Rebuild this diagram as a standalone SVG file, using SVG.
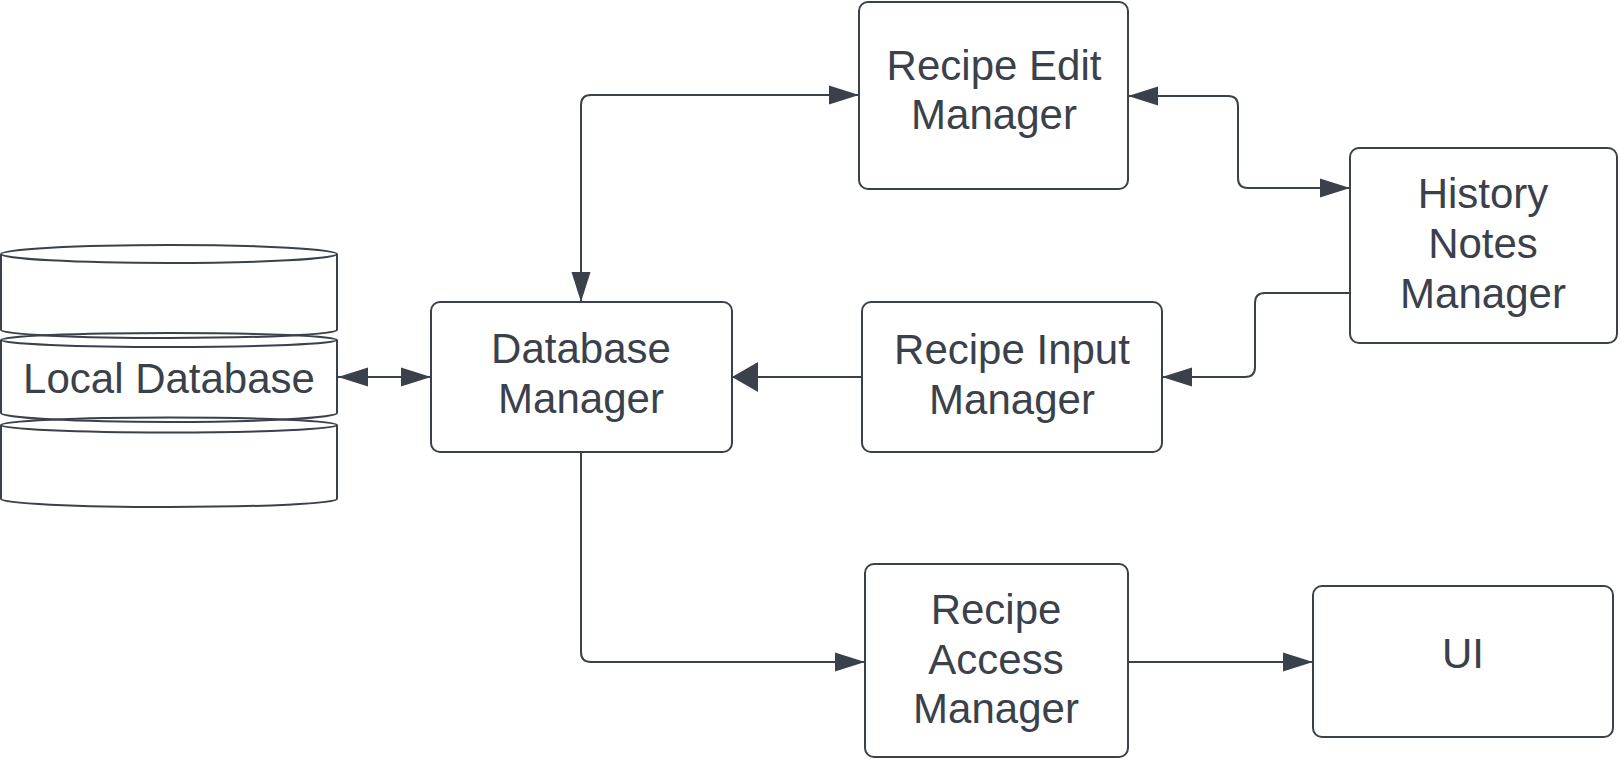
<svg xmlns="http://www.w3.org/2000/svg" width="1620" height="759" viewBox="0 0 1620 759">
<defs>
<style>
.box{fill:#ffffff;stroke:#3a414a;stroke-width:2}
.cyl{fill:none;stroke:#3a414a;stroke-width:2}
.lbl{font-family:"Liberation Sans",Arial,sans-serif;font-size:42px;fill:#3a414a;text-anchor:middle}
.conn{fill:none;stroke:#3a414a;stroke-width:2}
</style>
<marker id="ah" viewBox="0 0 30 20" refX="30" refY="10" markerWidth="30" markerHeight="20" markerUnits="userSpaceOnUse" orient="auto-start-reverse">
<path d="M0,0.5 L30,10 L0,19.5 Z" fill="#3a414a"/>
</marker>
<marker id="ahL" viewBox="0 0 26 30" refX="26" refY="15" markerWidth="26" markerHeight="30" markerUnits="userSpaceOnUse" orient="auto-start-reverse">
<path d="M0,0 L26,15 L0,30 Z" fill="#3a414a"/>
</marker>
</defs>
<rect x="0" y="0" width="1620" height="759" fill="#ffffff"/>

<g id="connectors">
<path class="conn" d="M338,377 L431,377" marker-start="url(#ah)" marker-end="url(#ah)"/>
<path class="conn" d="M581,302 L581,105 Q581,95 591,95 L859,95" marker-start="url(#ah)" marker-end="url(#ah)"/>
<path class="conn" d="M1128,96 L1228,96 Q1238,96 1238,106 L1238,178 Q1238,188 1248,188 L1350,188" marker-start="url(#ah)" marker-end="url(#ah)"/>
<path class="conn" d="M1350,293 L1265,293 Q1255,293 1255,303 L1255,367 Q1255,377 1245,377 L1162,377" marker-end="url(#ah)"/>
<path class="conn" d="M862,377 L732,377" marker-end="url(#ahL)"/>
<path class="conn" d="M581,452 L581,652 Q581,662 591,662 L865,662" marker-end="url(#ah)"/>
<path class="conn" d="M1128,662 L1313,662" marker-end="url(#ah)"/>
</g>

<g id="local-database">
<path class="cyl" d="M1,254 L1,330 A168,8 0 0 0 337,330 L337,254"/>
<ellipse class="cyl" cx="169" cy="254" rx="168" ry="9"/>
<path class="cyl" d="M1,340 L1,413 A168,9 0 0 0 337,413 L337,340"/>
<ellipse class="cyl" cx="169" cy="340" rx="168" ry="7"/>
<path class="cyl" d="M1,425 L1,499 A168,8 0 0 0 337,499 L337,425"/>
<ellipse class="cyl" cx="169" cy="425" rx="168" ry="7.5"/>
<text class="lbl" x="169" y="393">Local Database</text>
</g>

<g id="database-manager">
<rect class="box" x="431" y="302" width="301" height="150" rx="9"/>
<text class="lbl" x="581" y="363">Database</text>
<text class="lbl" x="581" y="413">Manager</text>
</g>

<g id="recipe-edit-manager">
<rect class="box" x="859" y="2" width="269" height="187" rx="9"/>
<text class="lbl" x="994" y="80">Recipe Edit</text>
<text class="lbl" x="994" y="129">Manager</text>
</g>

<g id="history-notes-manager">
<rect class="box" x="1350" y="148" width="267" height="195" rx="9"/>
<text class="lbl" x="1483" y="208">History</text>
<text class="lbl" x="1483" y="258">Notes</text>
<text class="lbl" x="1483" y="308">Manager</text>
</g>

<g id="recipe-input-manager">
<rect class="box" x="862" y="302" width="300" height="150" rx="9"/>
<text class="lbl" x="1012" y="364">Recipe Input</text>
<text class="lbl" x="1012" y="414">Manager</text>
</g>

<g id="recipe-access-manager">
<rect class="box" x="865" y="564" width="263" height="193" rx="9"/>
<text class="lbl" x="996" y="624">Recipe</text>
<text class="lbl" x="996" y="674">Access</text>
<text class="lbl" x="996" y="723">Manager</text>
</g>

<g id="ui">
<rect class="box" x="1313" y="586" width="300" height="151" rx="9"/>
<text class="lbl" x="1463" y="668">UI</text>
</g>
</svg>
